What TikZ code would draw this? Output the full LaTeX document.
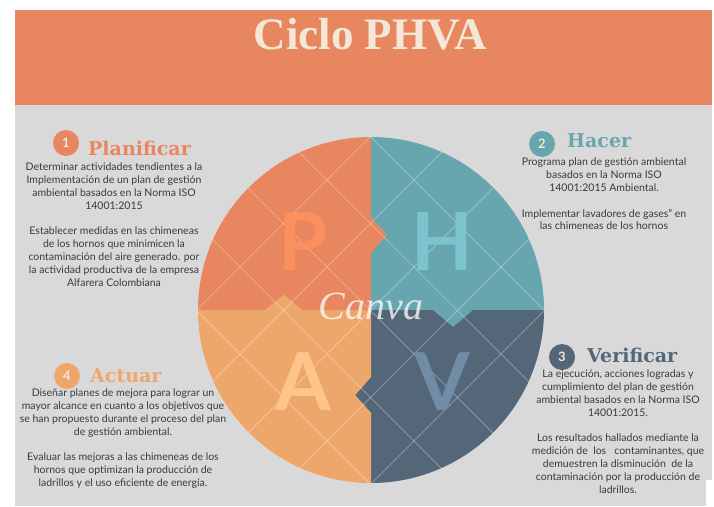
\documentclass[tikz,border=0pt]{standalone}
\usepackage{fontspec}
\setmainfont{Lato}
\newfontfamily\headfont{DejaVu Serif}
\newfontfamily\titlefont{Liberation Serif}
\usetikzlibrary{positioning}
\definecolor{planc}{HTML}{E8865F}
\definecolor{planl}{HTML}{FB905F}
\definecolor{hacc}{HTML}{67A6AE}
\definecolor{hacl}{HTML}{7DC3CD}
\definecolor{verc}{HTML}{546779}
\definecolor{verl}{HTML}{708CA7}
\definecolor{actc}{HTML}{EEA76B}
\definecolor{actl}{HTML}{FFC48B}
\definecolor{bgc}{HTML}{D9D9D9}
\definecolor{cream}{HTML}{F3E7D8}
\definecolor{bodyc}{HTML}{3A3A3A}
\tikzset{
	x=1pt, y=-1pt, % one unit per pixel, y runs down
	every node/.style={inner sep=0pt}, % text sits tight on its anchor
	body/.style={anchor=north, align=center, text=bodyc, font=\fontsize{10.5}{12.8}\selectfont}, % the paragraphs
	numdot/.style={circle, minimum size=26pt, text=cream, font=\bfseries\fontsize{13}{13}\selectfont}, % step numbers
	heading/.style={anchor=base west, font=\headfont\bfseries\fontsize{19}{19}\selectfont}, % step names
	bigletter/.style={anchor=base, font=\bfseries\fontsize{80}{80}\selectfont}, % P, H, V, A
	wm/.style={white, opacity=0.3, line width=0.8pt}, % watermark lines
}

\begin{document}
\begin{tikzpicture}
	\useasboundingbox (0,0) rectangle (714,506);
	\fill[white] (0,0) rectangle (714,506);
	\fill[bgc] (15,105) rectangle (712,506);
	\fill[planc] (15,10) rectangle (712,105);
	\fill[white] (706,480) rectangle (712,506);
	\node[anchor=base, text=cream, font=\titlefont\bfseries\fontsize{45}{45}\selectfont] (title) at (370,49) {Ciclo PHVA};

	% the four pieces of the wheel
	\coordinate (c) at (371,310);
	\begin{scope}
		\clip (c) circle[radius=173];
		\fill[planc] (150,90) -- (371,90) -- (371,217) -- (387,235) -- (371,253) -- (371,310) -- (302,310) -- (284,295) -- (265,310) -- (150,310) -- cycle;
		\fill[hacc] (371,90) -- (600,90) -- (600,310) -- (473,310) -- (453,327) -- (433,310) -- (371,310) -- (371,253) -- (387,235) -- (371,217) -- cycle;
		\fill[verc] (371,310) -- (433,310) -- (453,327) -- (473,310) -- (600,310) -- (600,530) -- (371,530) -- (371,413) -- (355,395) -- (371,377) -- cycle;
		\fill[actc] (150,310) -- (265,310) -- (284,295) -- (302,310) -- (371,310) -- (371,377) -- (355,395) -- (371,413) -- (371,530) -- (150,530) -- cycle;
		\foreach \k in {-4,...,2}
			\draw[wm] ({147+87*\k+120},120) -- ({147+87*\k+500},500);
		\foreach \k in {-1,...,5}
			\draw[wm] ({507+87*\k-120},120) -- ({507+87*\k-500},500);
	\end{scope}
	\node[bigletter, text=planl] (P) at (303,270) {P};
	\node[bigletter, text=hacl] (H) at (442,270) {H};
	\node[bigletter, text=actl] (A) at (303,410) {A};
	\node[bigletter, text=verl] (V) at (442,410) {V};
	\node[text=white, opacity=0.75, font=\titlefont\itshape\fontsize{40}{40}\selectfont] (canva) at (371,306) {Canva};

	% Planificar
	\node[numdot, fill=planc] (n1) at (66,143) {1};
	\node[heading, text=planc] (h1) at (88,155) {Planificar};
	\node[body] (b1) at (114,163) {Determinar actividades tendientes a la\\
		Implementación de un plan de gestión\\
		ambiental basados en la Norma ISO\\
		14001:2015\\[12.8pt]
		Establecer medidas en las chimeneas\\
		de los hornos que minimicen la\\
		contaminación del aire generado. por\\
		la actividad productiva de la empresa\\
		Alfarera Colombiana};

	% Hacer
	\node[numdot, fill=hacc] (n2) at (542,144) {2};
	\node[heading, text=hacc] (h2) at (567,147) {Hacer};
	\node[body] (b2) at (604,158) {Programa plan de gestión ambiental\\
		basados en la Norma ISO\\
		14001:2015 Ambiental.\\[12.8pt]
		Implementar lavadores de gases” en\\
		las chimeneas de los hornos};

	% Verificar
	\node[numdot, fill=verc] (n3) at (562,357) {3};
	\node[heading, text=verc] (h3) at (587,362) {Verificar};
	\node[body] (b3) at (618,370) {La ejecución, acciones logradas y\\
		cumplimiento del plan de gestión\\
		ambiental basados en la Norma ISO\\
		14001:2015.\\[12.8pt]
		Los resultados hallados mediante la\\
		medición de\ \ los\ \ \ contaminantes, que\\
		demuestren la disminución\ \ de la\\
		contaminación por la producción de\\
		ladrillos.};

	% Actuar
	\node[numdot, fill=actc] (n4) at (67,376) {4};
	\node[heading, text=actc] (h4) at (90,382) {Actuar};
	\node[body] (b4) at (123,389) {Diseñar planes de mejora para lograr un\\
		mayor alcance en cuanto a los objetivos que\\
		se han propuesto durante el proceso del plan\\
		de gestión ambiental.\\[12.8pt]
		Evaluar las mejoras a las chimeneas de los\\
		hornos que optimizan la producción de\\
		ladrillos y el uso eficiente de energía.};
\end{tikzpicture}
\end{document}
